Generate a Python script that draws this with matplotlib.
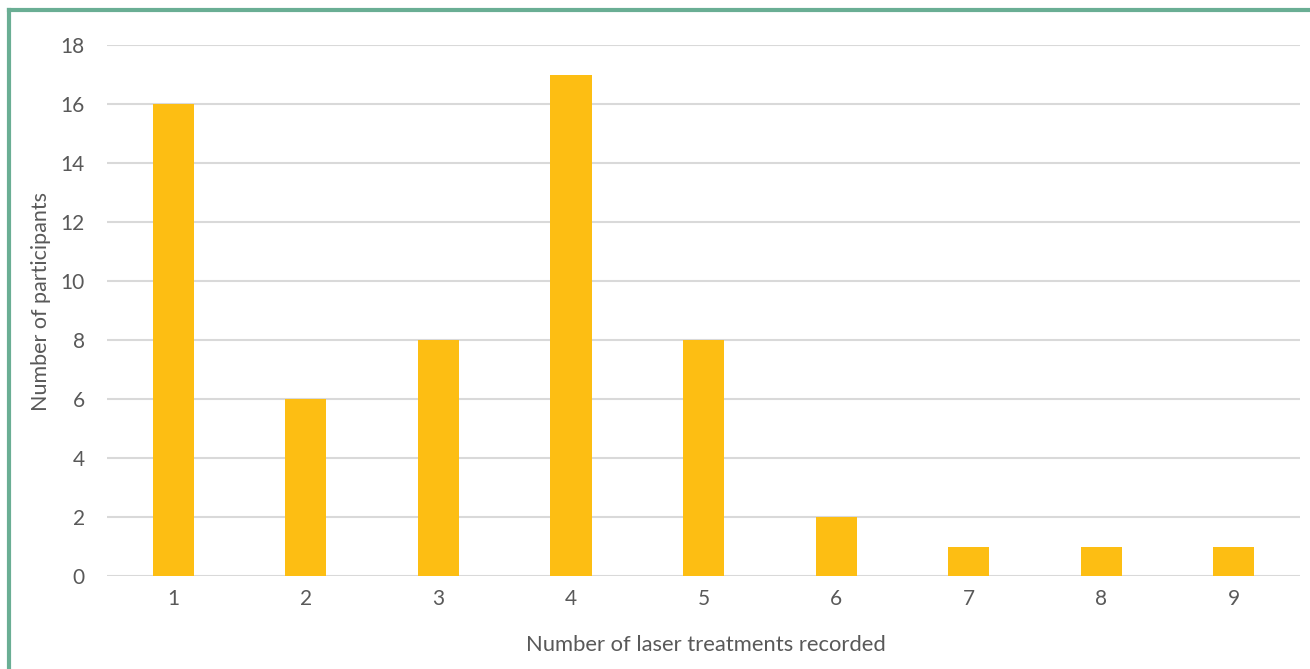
import matplotlib
matplotlib.use('Agg')
from matplotlib import pyplot as plt
from matplotlib.lines import Line2D

treatments = [1, 2, 3, 4, 5, 6, 7, 8, 9]
participants = [16, 6, 8, 17, 8, 2, 1, 1, 1]
y_ticks = [0, 2, 4, 6, 8, 10, 12, 14, 16, 18]

plt.rcParams['font.family'] = ['Lato', 'DejaVu Sans']

fig = plt.figure(figsize=(13.1, 6.69), dpi=100)
ax = fig.add_axes([0.0817, 0.139, 0.9107, 0.7937])

ax.bar(treatments, participants, width=0.31, color='#FDBE13', zorder=3)

ax.set_xlim(0.5, 9.5)
ax.set_ylim(0, 18)
ax.set_xticks(treatments)
ax.set_yticks(y_ticks)
ax.yaxis.grid(True, color='#d9d9d9', linewidth=1.5)
ax.set_axisbelow(True)
for s in ax.spines.values():
    s.set_visible(False)
ax.tick_params(length=0, labelsize=15, colors='#595959', pad=9)
ax.tick_params(axis='y', pad=16)

fig.text(0.539, 0.036, 'Number of laser treatments recorded', ha='center', va='center',
         fontsize=15.8, color='#595959')
fig.text(0.031, 0.55, 'Number of participants', ha='center', va='center', rotation=90,
         fontsize=15.5, color='#595959')

# green frame round the figure (top and left visible)
fig.add_artist(Line2D([0.007, 0.007], [0, 0.985], transform=fig.transFigure,
                      color='#6aae94', linewidth=3))
fig.add_artist(Line2D([0.007, 1.0], [0.985, 0.985], transform=fig.transFigure,
                      color='#6aae94', linewidth=3))

fig.savefig('out.png', dpi=100)
